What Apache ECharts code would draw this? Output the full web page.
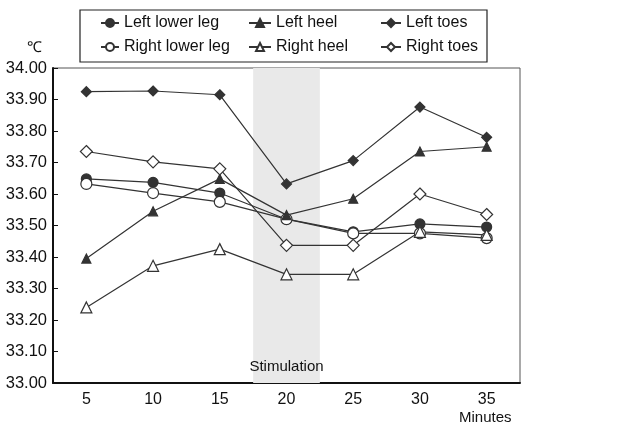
<!DOCTYPE html>
<html><head><meta charset="utf-8">
<script src="https://cdn.jsdelivr.net/npm/echarts@6/dist/echarts.min.js"></script>
<style>html,body{margin:0;padding:0;background:#fff}#c{width:622px;height:426px}</style>
</head><body><div id="c"></div>
<script>
const categories = ['5','10','15','20','25','30','35'];
const yTicks = [33.0, 34.0, 0.1];
const leftLowerLeg  = [33.648, 33.637, 33.603, 33.52, 33.48, 33.505, 33.495];
const rightLowerLeg = [33.632, 33.603, 33.575, 33.52, 33.475, 33.475, 33.46];
const leftHeel      = [33.395, 33.545, 33.648, 33.533, 33.585, 33.735, 33.75];
const rightHeel     = [33.24, 33.372, 33.425, 33.345, 33.345, 33.48, 33.47];
const leftToes      = [33.925, 33.927, 33.915, 33.632, 33.706, 33.876, 33.78];
const rightToes     = [33.735, 33.702, 33.68, 33.437, 33.437, 33.60, 33.535];
const stimulation   = [null, null, null, 34, null, null, null];
const names = ['Left lower leg','Right lower leg','Left heel','Right heel','Left toes','Right toes'];

const dark = '#333';
const font = 'Liberation Sans, Arial, sans-serif';
function line(name, data, symbol, filled, size){
  return {name, type:'line', data, symbol, symbolSize:size, z:3,
    lineStyle:{color:dark, width:1.2},
    itemStyle:{color: filled ? dark : '#fff', borderColor:dark, borderWidth:1.2}};
}
const chart = echarts.init(document.getElementById('c'));
const legendBase = {orient:'vertical', itemHeight:10, itemGap:8,
  textStyle:{fontFamily:font, fontSize:16, color:'#111'}, top:15, padding:0};
chart.setOption({
  animation:false,
  grid:{left:53, right:102, top:68, bottom:43, show:true, borderColor:'#555', borderWidth:1},
  legend:[
    Object.assign({}, legendBase, {left:100, itemWidth:18, data:[names[0], names[1]]}),
    Object.assign({}, legendBase, {left:248, itemWidth:22, data:[names[2], names[3]]}),
    Object.assign({}, legendBase, {left:380, itemWidth:20, data:[names[4], names[5]]})
  ],
  graphic:[
    {type:'rect', shape:{x:80, y:10, width:407, height:52}, style:{fill:'none', stroke:'#222', lineWidth:1.2}},
    {type:'text', left:27, top:40, style:{text:'℃', font:'15px '+font, fill:'#111'}},
    {type:'text', left:459, top:410, style:{text:'Minutes', font:'15px '+font, fill:'#111'}}
  ],
  xAxis:{type:'category', data:categories, boundaryGap:true,
    axisLine:{lineStyle:{color:'#111', width:2}},
    axisTick:{inside:true, length:5, lineStyle:{color:'#111'}},
    axisLabel:{fontFamily:font, fontSize:16, color:'#111', margin:9}},
  yAxis:{type:'value', min:yTicks[0], max:yTicks[1], interval:yTicks[2],
    axisLine:{show:true, lineStyle:{color:'#111', width:2}},
    axisTick:{show:true, inside:true, length:5, lineStyle:{color:'#111'}},
    splitLine:{show:false},
    axisLabel:{fontFamily:font, fontSize:16.5, color:'#111', margin:6, formatter:v=>v.toFixed(2)}},
  series:[
    {name:'Stimulation', type:'bar', data:stimulation, barWidth:'100%', z:1, silent:true,
      itemStyle:{color:'#e9e9e9'},
      label:{show:true, position:'insideBottom', distance:9, formatter:'Stimulation',
        fontFamily:font, fontSize:15, color:'#111'}},
    line(names[0], leftLowerLeg, 'circle', true, 10),
    line(names[1], rightLowerLeg, 'circle', false, 11),
    line(names[2], leftHeel, 'triangle', true, 9),
    line(names[3], rightHeel, 'triangle', false, 11),
    line(names[4], leftToes, 'diamond', true, 10),
    line(names[5], rightToes, 'diamond', false, 12)
  ]
});
</script></body></html>
